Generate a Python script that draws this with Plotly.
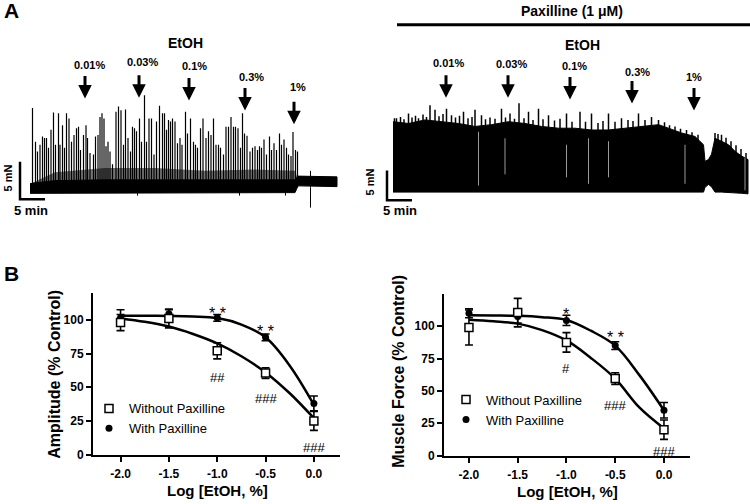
import plotly.graph_objects as go

FONT = "Liberation Sans, Arial, sans-serif"
W, H = 750, 504


def px(x):
    return x / W


def py(y):
    return 1 - y / H


# ---------------- Panel A data ----------------
conc_labels = ["0.01%", "0.03%", "0.1%", "0.3%", "1%"]

# Left recording (EtOH alone): time of EtOH additions (min)
ctl_add_min = [11.0, 21.8, 31.8, 43.0, 52.8]
# phasic contraction peaks: time (min) and amplitude (mN)
ctl_spike_min = [0.5, 1.1, 1.5, 2.0, 2.5, 2.9, 3.3, 3.7, 4.2, 4.7,
                 5.1, 5.7, 6.0, 6.5, 6.9, 7.3, 7.8, 8.3, 8.8, 9.3,
                 9.7, 10.1, 10.7, 11.2, 11.5, 12.0, 12.7, 13.1, 13.6, 14.0,
                 14.4, 14.8, 15.2, 15.6, 16.0, 16.5, 17.2, 17.7, 18.2, 18.7,
                 19.1, 19.6, 20.1, 20.5, 20.9, 21.3, 21.9, 22.3, 22.9, 23.3,
                 23.8, 24.3, 24.8, 25.3, 25.9, 26.5, 26.9, 27.3, 27.7, 28.1,
                 28.5, 29.0, 29.5, 30.0, 30.4, 31.1, 31.5, 32.1, 32.7, 33.1,
                 33.5, 34.1, 34.6, 35.2, 35.7, 36.2, 36.7, 37.2, 37.7, 38.1,
                 38.7, 39.2, 39.7, 40.2, 40.7, 41.1, 41.6, 42.1, 42.5, 42.9,
                 43.4, 44.0, 44.5, 45.0, 45.5, 45.9, 46.3, 46.8, 47.3, 47.9,
                 48.3, 48.8, 49.3, 49.9, 50.3, 50.8, 51.3, 51.7, 52.2, 52.6,
                 53.1, 53.5]
ctl_spike_mN = [10.6, 6.1, 4.8, 5.7, 6.8, 6.6, 6.6, 5.3, 7.7, 10.0,
                5.7, 9.9, 5.7, 8.3, 5.3, 9.9, 9.2, 6.1, 7.0, 7.9,
                8.1, 5.0, 7.0, 8.3, 6.6, 4.6, 4.4, 6.8, 7.0, 9.4,
                9.9, 9.2, 5.5, 6.1, 4.8, 3.1, 10.1, 10.8, 10.3, 5.7,
                10.4, 6.6, 4.8, 8.1, 7.9, 7.5, 9.2, 6.1, 12.3, 6.1,
                9.2, 9.2, 4.4, 8.8, 10.9, 9.9, 9.9, 7.7, 9.0, 8.8,
                9.2, 8.8, 5.9, 6.6, 5.7, 10.1, 7.2, 9.2, 6.1, 5.7,
                5.3, 7.9, 9.2, 6.6, 7.5, 7.0, 9.2, 5.7, 5.7, 5.3,
                4.4, 8.1, 8.1, 9.4, 8.1, 8.1, 7.9, 5.3, 9.9, 7.2,
                6.9, 4.8, 5.3, 5.5, 5.0, 5.5, 5.3, 6.4, 4.4, 6.8,
                5.0, 5.9, 5.0, 7.2, 5.7, 6.4, 5.3, 4.4, 4.2, 7.4,
                5.0, 4.8]
# baseline noise band (min, mN)
ctl_band_min = [0, 5, 15, 25, 35, 45, 53.0, 53.6, 54.0, 61.4]
ctl_band_hi = [0.5, 0.9, 1.0, 1.0, 0.9, 1.0, 1.0, 1.5, 1.5, 1.4]
ctl_band_lo = [-0.8, -0.7, -0.7, -0.7, -0.7, -0.7, -0.7, 0.2, 0.2, 0.1]
# denser region of overlapping contraction bases
ctl_base_min = [0.5, 5, 15, 25, 35, 45, 53.0, 53.6]
ctl_base_hi = [0.6, 2.0, 2.6, 2.6, 2.2, 2.4, 2.2, 1.0]
ctl_dip_min = [21.5, 41.9, 51.1, 56.1, 56.1]
ctl_dip_mN = [-1.1, -1.1, -1.1, -2.7, 2.2]

# Right recording (with paxilline)
pax_add_min = [10.6, 23.0, 35.4, 47.8, 60.2]
pax_env_min = [0, 3.1, 6.4, 9.7, 13.1, 16.4, 19.7, 23.1, 26.4, 29.7,
               33.1, 36.4, 39.7, 43.1, 46.4, 49.7, 53.1, 55.1, 57.7, 60.4,
               62.1, 62.4, 63.1, 63.7, 64.4, 65.7, 67.1, 68.4, 69.7, 71.0]
pax_env_top = [11.6, 11.3, 11.9, 11.6, 11.3, 10.8, 11.1, 11.6, 11.3, 10.8,
               10.5, 10.5, 10.2, 10.2, 10.5, 10.8, 11.1, 10.5, 9.7, 9.1,
               7.7, 4.9, 5.2, 6.1, 8.8, 8.3, 7.7, 6.6, 5.8, 5.2]
pax_env_bot = [-0.3, -0.3, -0.3, -0.3, -0.3, -0.3, -0.3, -0.3, -0.3, -0.3,
               -0.3, -0.3, -0.3, -0.3, -0.3, -0.3, -0.3, -0.3, -0.3, -0.3,
               -0.3, 0.5, 1.0, 0.6, -0.3, -0.3, -0.4, -0.4, -0.5, -0.6]
pax_spike_min = [0.3, 0.7, 1.5, 2.2, 3.1, 3.8, 4.5, 5.1, 6.0, 6.7,
                 7.4, 8.4, 9.2, 10.0, 10.7, 11.7, 12.5, 13.3, 14.1, 15.0,
                 15.8, 16.4, 17.7, 18.5, 19.4, 20.4, 21.7, 22.5, 23.4, 24.3,
                 25.2, 26.2, 27.1, 28.0, 29.1, 30.0, 31.1, 32.3, 33.4, 34.7,
                 35.8, 37.4, 38.5, 39.7, 41.0, 42.0, 43.1, 44.4, 45.7, 47.0,
                 48.0, 49.1, 50.4, 51.7, 53.1, 54.3, 55.3, 56.4, 57.5, 58.7,
                 59.8, 61.0, 64.4, 65.0, 65.7, 66.6, 67.6, 68.6, 69.6, 70.6]
pax_spike_mN = [12.2, 12.2, 12.4, 12.0, 13.0, 12.3, 12.6, 12.2, 12.8, 12.4,
                14.4, 13.6, 12.5, 12.9, 13.8, 12.7, 12.3, 12.6, 13.3, 12.2,
                12.4, 13.6, 12.7, 12.0, 12.3, 12.1, 13.8, 12.3, 13.0, 12.1,
                14.7, 12.2, 13.3, 11.9, 13.8, 12.0, 12.7, 11.8, 12.1, 13.0,
                11.6, 13.3, 11.6, 13.0, 11.4, 11.7, 13.0, 11.6, 12.2, 11.9,
                11.7, 13.0, 11.9, 12.4, 11.9, 11.5, 11.0, 10.8, 10.4, 10.2,
                9.8, 9.4, 9.7, 9.5, 9.4, 8.9, 8.3, 7.6, 7.0, 6.3]
pax_gap_min = [17.1, 22.4, 34.7, 39.1, 43.1, 58.4, 70.4]
pax_gap_top = [9.9, 8.8, 7.7, 8.8, 8.3, 7.7, 5.5]
pax_gap_bot = [0.8, 2.7, 2.2, 1.1, 2.2, 1.1, 0.0]

# ---------------- Panel B data ----------------
log_conc = [-2.0, -1.5, -1.0, -0.5, 0.0]
log_tick_text = ["-2.0", "-1.5", "-1.0", "-0.5", "0.0"]
amp_without = [98, 101, 77, 60.5, 25]
amp_without_sem = [6, 7, 6, 4, 7]
amp_with = [101.5, 104.5, 101.5, 87, 38]
amp_with_sem = [6, 3, 2.5, 2.5, 5.5]
fit_x = [-2.0, -1.75, -1.5, -1.25, -1.0, -0.75, -0.5, -0.25, 0.0]
amp_fit_without = [101, 98.5, 95, 89.5, 82.5, 73, 61, 45.5, 27]
amp_fit_with = [103, 103, 102.9, 102.5, 101.3, 96.5, 87, 66, 37]

force_without = [99, 110.5, 87.5, 59.5, 20]
force_without_sem = [13.5, 11, 7.5, 4.5, 7.5]
force_with = [110, 107.5, 104.5, 85, 35]
force_with_sem = [3.5, 5, 4, 3, 6]
force_fit_without = [105, 103.8, 102, 97, 89, 75.5, 59.5, 37, 21]
force_fit_with = [108.5, 108.3, 108, 107, 104.8, 96.5, 85, 62, 35]

amp_sig_text = ["* *", "* *", "##", "###", "###"]
amp_sig_x = [-1.0, -0.5, -1.0, -0.5, 0.0]
amp_sig_y = [105, 91, 57, 41.5, 5.5]
force_sig_text = ["*", "* *", "#", "###", "###"]
force_sig_x = [-1.0, -0.5, -1.0, -0.5, 0.0]
force_sig_y = [109, 91, 67.5, 38.5, 3]

fig = go.Figure()


def spikes(ts, vals, base=0.0):
    xs, ys = [], []
    for t, v in zip(ts, vals):
        xs += [t, t, None]
        ys += [base, v, None]
    return xs, ys


# ---- left recording ----
fig.add_trace(go.Scatter(
    x=ctl_base_min + ctl_base_min[::-1], y=ctl_base_hi + [0.0] * len(ctl_base_min),
    fill="toself", fillcolor="rgba(0,0,0,0.55)", line=dict(width=0),
    mode="lines", xaxis="x", yaxis="y", showlegend=False, hoverinfo="skip"))
fig.add_trace(go.Scatter(
    x=ctl_band_min + ctl_band_min[::-1], y=ctl_band_hi + ctl_band_lo[::-1],
    fill="toself", fillcolor="black", line=dict(color="black", width=1),
    mode="lines", xaxis="x", yaxis="y", showlegend=False, hoverinfo="skip"))
sx, sy = spikes(ctl_spike_min, ctl_spike_mN)
fig.add_trace(go.Scatter(x=sx, y=sy, mode="lines", line=dict(color="black", width=1.2),
                         xaxis="x", yaxis="y", showlegend=False, hoverinfo="skip"))
dx, dy = spikes(ctl_dip_min, ctl_dip_mN)
fig.add_trace(go.Scatter(x=dx, y=dy, mode="lines", line=dict(color="black", width=1),
                         xaxis="x", yaxis="y", showlegend=False, hoverinfo="skip"))
# scale bar (5 min, 5 mN)
fig.add_trace(go.Scatter(x=[-2, -2, 3], y=[3.42, -1.58, -1.58], mode="lines",
                         line=dict(color="black", width=2.5),
                         xaxis="x", yaxis="y", showlegend=False, hoverinfo="skip"))

# ---- right recording ----
fig.add_trace(go.Scatter(
    x=pax_env_min + pax_env_min[::-1], y=pax_env_top + pax_env_bot[::-1],
    fill="toself", fillcolor="black", line=dict(color="black", width=1),
    mode="lines", xaxis="x2", yaxis="y2", showlegend=False, hoverinfo="skip"))
sx, sy = spikes(pax_spike_min, pax_spike_mN, base=5)
fig.add_trace(go.Scatter(x=sx, y=sy, mode="lines", line=dict(color="black", width=1.5),
                         xaxis="x2", yaxis="y2", showlegend=False, hoverinfo="skip"))
gx, gy = [], []
for t, a, b in zip(pax_gap_min, pax_gap_top, pax_gap_bot):
    gx += [t, t, None]
    gy += [b, a, None]
fig.add_trace(go.Scatter(x=gx, y=gy, mode="lines", line=dict(color="#9a9a9a", width=1),
                         xaxis="x2", yaxis="y2", showlegend=False, hoverinfo="skip"))
fig.add_trace(go.Scatter(x=[-1.2, -1.2, 3.8], y=[3.33, -1.67, -1.67], mode="lines",
                         line=dict(color="black", width=2.5),
                         xaxis="x2", yaxis="y2", showlegend=False, hoverinfo="skip"))


# ---- Panel B ----
def dose_panel(xa, ya, wo, wo_e, wi, wi_e, fit_wo, fit_wi, leg):
    for fy in (fit_wi, fit_wo):
        fig.add_trace(go.Scatter(x=fit_x, y=fy, mode="lines",
                                 line=dict(color="black", width=2.5, shape="spline", smoothing=1.0),
                                 xaxis=xa, yaxis=ya, showlegend=False, hoverinfo="skip"))
    fig.add_trace(go.Scatter(
        x=log_conc, y=wi, mode="markers", name="With Paxilline",
        marker=dict(symbol="circle", size=7, color="black"),
        error_y=dict(type="data", array=wi_e, color="black", thickness=1.6, width=4),
        xaxis=xa, yaxis=ya, legend=leg, legendrank=2))
    fig.add_trace(go.Scatter(
        x=log_conc, y=wo, mode="markers", name="Without Paxilline",
        marker=dict(symbol="square", size=8, color="white", line=dict(color="black", width=1.5)),
        error_y=dict(type="data", array=wo_e, color="black", thickness=1.6, width=4),
        xaxis=xa, yaxis=ya, legend=leg, legendrank=1))


dose_panel("x3", "y3", amp_without, amp_without_sem, amp_with, amp_with_sem,
           amp_fit_without, amp_fit_with, "legend")
dose_panel("x4", "y4", force_without, force_without_sem, force_with, force_with_sem,
           force_fit_without, force_fit_with, "legend2")

annotations = []


def txt(x, y, text, size=12, bold=True, angle=0, xref="paper", yref="paper", xanchor="center"):
    annotations.append(dict(
        x=x, y=y, xref=xref, yref=yref, text=text, showarrow=False, textangle=angle,
        xanchor=xanchor, yanchor="middle",
        font=dict(family=FONT, size=size, color="black", weight="bold" if bold else "normal")))


# panel letters
txt(px(11), py(11), "A", size=21)
txt(px(11), py(277), "B", size=21)
# recording labels
txt(px(185), py(44), "EtOH", size=14)
txt(px(582), py(46), "EtOH", size=14)
txt(px(572), py(11), "Paxilline (1 \u03bcM)", size=14)
txt(px(8), py(181), "5 mN", size=11, angle=-90)
txt(px(370), py(185), "5 mN", size=11, angle=-90)
txt(px(31), py(213), "5 min", size=13)
txt(px(400), py(213), "5 min", size=13)

ctl_label_pos = [(89, 66), (142, 63), (194, 67), (251, 78), (298, 88)]
ctl_tip_y = [100, 99, 102, 112, 126]
pax_label_pos = [(448, 64), (511, 65), (574, 67), (637, 73), (694, 78)]
pax_tip_y = [99, 99, 101, 105, 112]
for lab, (lx, ly) in zip(conc_labels, ctl_label_pos):
    txt(px(lx), py(ly), lab, size=11)
for lab, (lx, ly) in zip(conc_labels, pax_label_pos):
    txt(px(lx), py(ly), lab, size=11)
for t, ty in zip(ctl_add_min, ctl_tip_y):
    annotations.append(dict(x=t, y=py(ty), xref="x", yref="paper", ax=0, ay=-24,
                            showarrow=True, arrowhead=2, arrowsize=0.9, arrowwidth=3,
                            arrowcolor="black", text=""))
for t, ty in zip(pax_add_min, pax_tip_y):
    annotations.append(dict(x=t, y=py(ty), xref="x2", yref="paper", ax=0, ay=-24,
                            showarrow=True, arrowhead=2, arrowsize=0.9, arrowwidth=3,
                            arrowcolor="black", text=""))

# axis titles panel B
txt(px(55), py(380), "Amplitude (% Control)", size=16, angle=-90)
txt(px(399), py(377), "Muscle Force (% Control)", size=16, angle=-90)
txt(px(217), py(497.5), "Log [EtOH, %]", size=15)
txt(px(567), py(498), "Log [EtOH, %]", size=15)

for t, xv, yv in zip(amp_sig_text, amp_sig_x, amp_sig_y):
    txt(xv, yv, t, size=16 if "*" in t else 13, bold=False, xref="x3", yref="y3")
for t, xv, yv in zip(force_sig_text, force_sig_x, force_sig_y):
    txt(xv, yv, t, size=16 if "*" in t else 13, bold=False, xref="x4", yref="y4")

hidden = dict(visible=False, showgrid=False, zeroline=False)
axis_b = dict(showline=True, linecolor="black", linewidth=2, ticks="outside", ticklen=5,
              tickwidth=2, tickcolor="black", showgrid=False, zeroline=False,
              tickfont=dict(family=FONT, size=12, color="black", weight="bold"))

fig.update_layout(
    width=W, height=504, margin=dict(l=0, r=0, t=0, b=0),
    paper_bgcolor="white", plot_bgcolor="white",
    font=dict(family=FONT, color="black"),
    xaxis=dict(domain=[0, 0.5], range=[-6, 69], anchor="y", **hidden),
    yaxis=dict(domain=[1 - 230 / H, 1], range=[-5.263, 25.0], anchor="x", **hidden),
    xaxis2=dict(domain=[0.5, 1], range=[-3.6, 71.4], anchor="y2", **hidden),
    yaxis2=dict(domain=[1 - 230 / H, 1], range=[-6.167, 32.17], anchor="x2", **hidden),
    xaxis3=dict(domain=[px(93), px(340)], range=[-2.285, 0.27], anchor="y3",
                tickvals=log_conc, ticktext=log_tick_text, ticklabelstandoff=2, **axis_b),
    yaxis3=dict(domain=[py(461), py(297)], range=[0, 120], anchor="x3",
                tickvals=[0, 25, 50, 75, 100], **axis_b),
    xaxis4=dict(domain=[px(444), px(690)], range=[-2.256, 0.267], anchor="y4",
                tickvals=log_conc, ticktext=log_tick_text, ticklabelstandoff=2, **axis_b),
    yaxis4=dict(domain=[py(462), py(298)], range=[0, 125], anchor="x4",
                tickvals=[0, 25, 50, 75, 100], **axis_b),
    legend=dict(x=px(89), y=py(399), xanchor="left", yanchor="top", bgcolor="rgba(0,0,0,0)",
                font=dict(family=FONT, size=13, color="black"), tracegroupgap=0,
                itemwidth=30),
    legend2=dict(x=px(446), y=py(390), xanchor="left", yanchor="top", bgcolor="rgba(0,0,0,0)",
                 font=dict(family=FONT, size=13, color="black"), tracegroupgap=0,
                 itemwidth=30),
    annotations=annotations,
    shapes=[dict(type="line", xref="paper", yref="paper", x0=px(397), x1=px(750),
                 y0=py(25), y1=py(25), line=dict(color="black", width=3))],
    showlegend=True,
)

fig.write_html("out.html", config={"displayModeBar": False},
               post_script="document.body.style.margin='0px';")
